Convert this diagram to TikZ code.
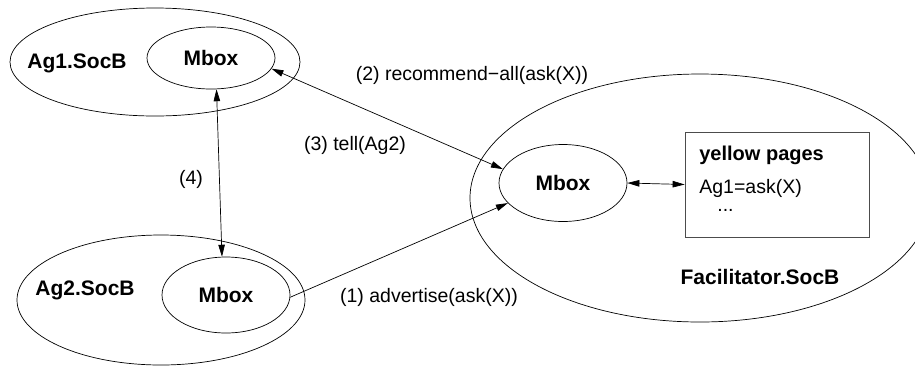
\documentclass[tikz,border=0pt]{standalone}
\usepackage{fontspec}
\setmainfont{Liberation Sans}
\usetikzlibrary{shapes.geometric,arrows.meta,positioning}

\begin{document}
\begin{tikzpicture}[x=1pt, y=-1pt, line width=0.7pt,
  socb/.style={ellipse, draw, inner sep=0pt},
  mbox/.style={ellipse, draw, inner sep=0pt, minimum width=128pt, minimum height=64pt,
    font=\fontsize{21}{25}\selectfont\bfseries},
  socname/.style={font=\fontsize{21}{25}\selectfont\bfseries},
  msg/.style={font=\fontsize{19.5}{23}\selectfont},
  tip/.style={{Triangle[length=12pt,width=6.5pt]}-{Triangle[length=12pt,width=6.5pt]}},
  onetip/.style={-{Triangle[length=12pt,width=6.5pt]}}
]
  \useasboundingbox (0,0) rectangle (915,365);
  \clip (0,0) rectangle (915,365);

  % the three social bodies
  \node[socb, minimum width=290pt, minimum height=108pt] (ag1) at (155,62) {};
  \node[socb, minimum width=288pt, minimum height=130pt] (ag2) at (161,300) {};
  \node[socb, minimum width=460pt, minimum height=248pt] (fac) at (700,198) {};

  \node[socname] (ag1name) at (77,63) {Ag1.SocB};
  \node[socname] (ag2name) at (85,290) {Ag2.SocB};
  \node[socname] (facname) at (760,277) {Facilitator.SocB};

  % mailboxes
  \node[mbox, minimum height=62pt] (ag1mbox) at (211,58) {Mbox};
  \node[mbox, minimum height=76pt] (ag2mbox) at (226,295) {\raisebox{-3pt}{Mbox}};
  \node[mbox, minimum height=77pt] (facmbox) at (563,183) {Mbox};

  % yellow pages
  \node[draw=black!70, minimum width=184pt, minimum height=105pt, inner sep=0pt] (yp) at (777,184.5) {};
  \node[font=\fontsize{20}{24}\selectfont\bfseries, anchor=west, inner sep=0pt] (yptitle) at (699,155) {yellow pages};
  \node[msg, anchor=west, inner sep=0pt] (ypentry) at (699,188) {Ag1=ask(X)};
  \node[msg, anchor=west, inner sep=0pt] (ypdots) at (717,210) {...};

  % messages
  \draw[tip] (ag1mbox.-10) -- (facmbox.167);
  \draw[tip] (ag1mbox.-80) -- (ag2mbox.96);
  \draw[onetip] (ag2mbox.-2) -- (facmbox.200);
  \draw[tip] (facmbox.east) -- (yp.west);

  \node[msg] (m1) at (429,297) {(1) advertise(ask(X))};
  \node[msg] (m2) at (472,75) {(2) recommend−all(ask(X))};
  \node[msg] (m3) at (355,145) {(3) tell(Ag2)};
  \node[msg] (m4) at (191,179) {(4)};
\end{tikzpicture}
\end{document}
